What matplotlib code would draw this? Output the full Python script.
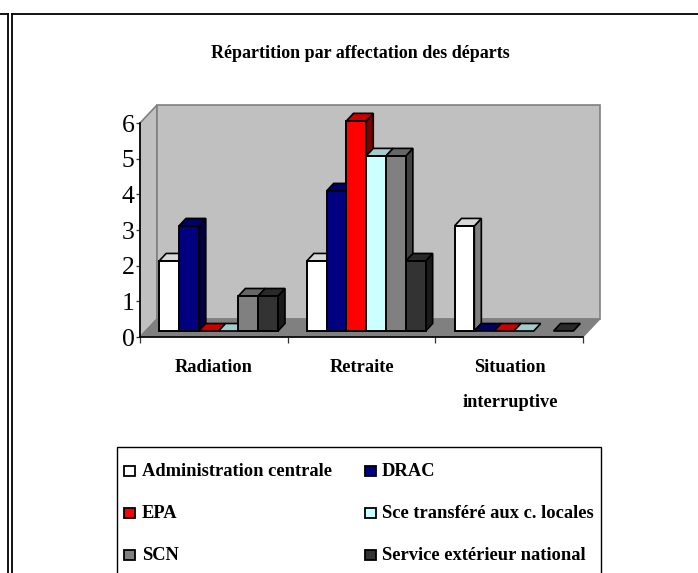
import numpy as np
import matplotlib
matplotlib.use('Agg')
import matplotlib.pyplot as plt
from matplotlib.patches import Polygon, Rectangle
from matplotlib.lines import Line2D

categories = ['Radiation', 'Retraite', 'Situation\ninterruptive']
series_names = ['Administration centrale', 'DRAC', 'EPA',
                'Sce transféré aux c. locales', 'SCN', 'Service extérieur national']
admin_centrale = [2, 2, 3]
drac = [3, 4, 0]
epa = [0, 6, 0]
sce_transfere = [0, 5, 0]
scn = [1, 5, np.nan]
service_ext = [1, 2, 0]
yticks = [0, 1, 2, 3, 4, 5, 6]

series = [admin_centrale, drac, epa, sce_transfere, scn, service_ext]
colors = ['#ffffff', '#000080', '#ff0000', '#ccffff', '#808080', '#333333']
tops = ['#d8d8d8', '#000066', '#cc0000', '#a3cccc', '#666666', '#292929']
sides = ['#808080', '#000040', '#800000', '#668080', '#404040', '#1a1a1a']

W, H = 698, 573
FONT = 'Liberation Serif'

fig = plt.figure(figsize=(W / 100, H / 100), dpi=100)

# axes = plan avant du graphique (pixels 140-583 / 123-337)
ax = fig.add_axes([140 / W, 1 - 337 / H, 443 / W, 214 / H])
ax.set_xlim(0, 3)
ax.set_ylim(0, 6)
ax.patch.set_visible(False)
for s in ax.spines.values():
    s.set_visible(False)

# conversion des decalages en pixels vers unites de donnees
ux = 3 / 443
uy = 6 / 214
depth_x = 17 * ux
depth_y = 18 * uy

def poly(pts, fc, ec='none', lw=0, z=1):
    ax.add_patch(Polygon(pts, closed=True, facecolor=fc, edgecolor=ec,
                         linewidth=lw, zorder=z, clip_on=False))

# murs et sol
poly([(0, 0), (depth_x, depth_y), (depth_x, 6 + depth_y), (0, 6)], '#c0c0c0', '#808080', 1.2)
poly([(depth_x, depth_y), (3 + depth_x, depth_y), (3 + depth_x, 6 + depth_y), (depth_x, 6 + depth_y)],
     '#c0c0c0', '#808080', 1.2)
poly([(0, 0), (3, 0), (3 + depth_x, depth_y), (depth_x, depth_y)], '#808080', '#808080', 0.8)

# axes avant
ax.add_line(Line2D([0, 3], [0, 0], color='black', lw=1.2, zorder=2, clip_on=False))
ax.add_line(Line2D([0, 0], [0, 6], color='black', lw=1.2, zorder=2, clip_on=False))

# barres 3D
bar_w = 19.8 * ux
bar_dx = 7 * ux
bar_dy = 7.5 * uy
base = 6 * uy
start = 19.2 * ux
for i, vals in enumerate(series):
    for j, v in enumerate(vals):
        if np.isnan(v):
            continue
        x0 = j + start + i * bar_w
        x1 = x0 + bar_w
        y0 = base
        y1 = base + v * 0.982
        z = 3 + j * 10 + i
        if v > 0:
            poly([(x1, y0), (x1 + bar_dx, y0 + bar_dy), (x1 + bar_dx, y1 + bar_dy), (x1, y1)],
                 sides[i], 'black', 1.2, z)
        poly([(x0, y1), (x1, y1), (x1 + bar_dx, y1 + bar_dy), (x0 + bar_dx, y1 + bar_dy)],
             tops[i], 'black', 1.2, z)
        if v > 0:
            poly([(x0, y0), (x1, y0), (x1, y1), (x0, y1)], colors[i], 'black', 1.4, z)

# ticks
ax.set_xticks(range(4))
ax.set_xticklabels([])
ax.set_yticks(yticks)
ax.tick_params(axis='x', length=4.5, width=0.9, color='#333333')
ax.tick_params(axis='y', length=3, width=0.9, pad=1, color='#333333')
for lab in ax.get_yticklabels():
    lab.set_fontfamily(FONT)
    lab.set_fontsize(18.5)

# etiquettes de categories
for j, c in enumerate(categories):
    fig.text((214 + j * 148) / W, 1 - 359.5 / H, c, ha='center', va='top',
             family=FONT, weight='bold', fontsize=13.2, linespacing=2.35)

fig.text(360 / W, 1 - 54 / H, 'Répartition par affectation des départs', ha='center', va='center',
         family=FONT, weight='bold', fontsize=13)

# cadre de la page
for x in (8, 12):
    fig.add_artist(Line2D([x / W, x / W], [0, 1 - 14 / H], color='black', lw=1.3))
fig.add_artist(Line2D([0, 8 / W], [1 - 14 / H] * 2, color='black', lw=1.3))
fig.add_artist(Line2D([12 / W, 1], [1 - 14 / H] * 2, color='black', lw=1.3))

# legende (coupee en bas de l'image)
fig.add_artist(Rectangle((117 / W, -10 / H), 484 / W, (H + 10 - 447) / H, transform=fig.transFigure,
                         facecolor='white', edgecolor='black', linewidth=1))
sw_x = [124, 365]
txt_x = [142, 382]
row_y = [471, 513, 555]
for i, name in enumerate(series_names):
    col = i % 2
    y = row_y[i // 2]
    fig.add_artist(Rectangle((sw_x[col] / W, 1 - (y + 5) / H), 11 / W, 10 / H, transform=fig.transFigure,
                             facecolor=colors[i], edgecolor='black', linewidth=1.3))
    fig.text(txt_x[col] / W, 1 - y / H, name, ha='left', va='center',
             family=FONT, weight='bold', fontsize=13.3)

fig.savefig('out.png', dpi=100)
